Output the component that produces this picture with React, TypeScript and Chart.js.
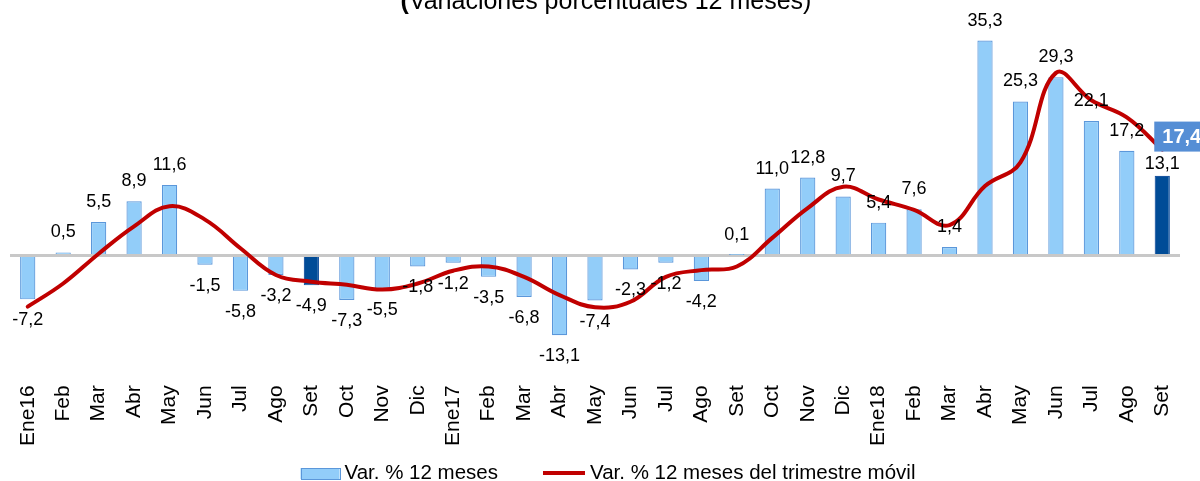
import React, { useEffect, useRef } from "react";
import { Chart, registerables } from "chart.js";

Chart.register(...registerables);

const titleText = "(Variaciones porcentuales 12 meses)";

const categories = [
  "Ene16", "Feb", "Mar", "Abr", "May", "Jun", "Jul", "Ago", "Set", "Oct", "Nov", "Dic",
  "Ene17", "Feb", "Mar", "Abr", "May", "Jun", "Jul", "Ago", "Set", "Oct", "Nov", "Dic",
  "Ene18", "Feb", "Mar", "Abr", "May", "Jun", "Jul", "Ago", "Set",
];

const var12Meses = [
  -7.2, 0.5, 5.5, 8.9, 11.6, -1.5, -5.8, -3.2, -4.9, -7.3, -5.5, -1.8,
  -1.2, -3.5, -6.8, -13.1, -7.4, -2.3, -1.2, -4.2, 0.1, 11.0, 12.8, 9.7,
  5.4, 7.6, 1.4, 35.3, 25.3, 29.3, 22.1, 17.2, 13.1,
];

const varTrimestreMovil = [
  -8.4, -4.6, 0.3, 4.8, 8.1, 5.9, 1.2, -3.2, -4.3, -4.8, -5.6, -4.6,
  -2.5, -1.8, -3.5, -6.5, -8.5, -7.6, -3.5, -2.4, -1.8, 2.9, 7.8, 11.3,
  9.2, 7.5, 5.0, 11.4, 15.3, 30.0, 25.5, 22.7, 17.4,
];

const highlightedIndexes = [8, 32];

const seriesNames = ["Var. % 12 meses", "Var. % 12 meses del trimestre móvil"];

const FONT = "'Liberation Sans', Arial, Helvetica, sans-serif";
const LIGHT_FILL = "#92CDF9";
const LIGHT_BORDER = "#5B97DA";
const DARK_FILL = "#004C97";
const DARK_BORDER = "#1A55A0";
const LINE_COLOR = "#C00000";

const fmt = (v: number) => v.toFixed(1).replace(".", ",");

export default function App() {
  const ref = useRef<HTMLCanvasElement>(null);

  useEffect(() => {
    document.body.style.margin = "0";
    const canvas = ref.current;
    if (!canvas) return;

    const barFill = categories.map((_, i) => (highlightedIndexes.includes(i) ? DARK_FILL : LIGHT_FILL));
    const barBorder = categories.map((_, i) => (highlightedIndexes.includes(i) ? DARK_BORDER : LIGHT_BORDER));

    const titlePlugin = {
      id: "clippedTitle",
      afterDraw(chart: any) {
        const c = chart.ctx;
        c.save();
        c.fillStyle = "#000";
        c.textBaseline = "alphabetic";
        const first = titleText.slice(0, 1);
        const rest = titleText.slice(1);
        c.font = `bold 25px ${FONT}`;
        const w1 = c.measureText(first).width;
        c.font = `25px ${FONT}`;
        const w2 = c.measureText(rest).width;
        const cx = 606;
        const x0 = cx - (w1 + w2) / 2;
        c.font = `bold 25px ${FONT}`;
        c.textAlign = "left";
        c.fillText(first, x0, 9);
        c.font = `25px ${FONT}`;
        c.fillText(rest, x0 + w1, 9);
        c.restore();
      },
    };

    const labelsPlugin = {
      id: "valueLabels",
      afterDatasetsDraw(chart: any) {
        const c = chart.ctx;
        c.save();
        // callout box for the last moving-quarter value
        const lm = chart.getDatasetMeta(1);
        const last = lm.data[lm.data.length - 1];
        const txt = fmt(varTrimestreMovil[varTrimestreMovil.length - 1]);
        c.font = `bold 20px ${FONT}`;
        const w = c.measureText(txt).width;
        const bx = last.x - 8;
        const by = last.y - 28;
        const bw = w + 16;
        const bh = 30;

        // bar value labels
        const meta = chart.getDatasetMeta(0);
        c.font = `18px ${FONT}`;
        c.fillStyle = "#000";
        c.textAlign = "center";
        c.textBaseline = "middle";
        meta.data.forEach((el: any, i: number) => {
          const v = var12Meses[i];
          let y = v >= 0 ? el.y - 20 : el.y + 21;
          const tw = c.measureText(fmt(v)).width;
          const overlapsX = el.x + tw / 2 > bx && el.x - tw / 2 < bx + bw;
          if (v >= 0 && overlapsX && y - 9 < by + bh && y + 9 > by) {
            y = by + bh + 12;
          }
          c.fillText(fmt(v), el.x, y);
        });

        c.font = `bold 20px ${FONT}`;
        c.fillStyle = "#558ED5";
        c.fillRect(bx, by, bw, bh);
        c.fillStyle = "#fff";
        c.textAlign = "left";
        c.fillText(txt, bx + 8, by + bh / 2 + 1);
        c.restore();
      },
    };

    const legendPlugin = {
      id: "customLegend",
      afterDraw(chart: any) {
        const c = chart.ctx;
        c.save();
        c.font = `20.5px ${FONT}`;
        c.textBaseline = "alphabetic";
        c.textAlign = "left";
        const t1 = c.measureText(seriesNames[0]).width;
        const t2 = c.measureText(seriesNames[1]).width;
        const boxW = 39;
        const lineW = 42;
        const gap = 5;
        const itemGap = 45;
        const total = boxW + gap + t1 + itemGap + lineW + gap + t2;
        let x = chart.width / 2 + 8 - total / 2;
        const baseline = 479;
        const midY = 472;
        c.fillStyle = LIGHT_FILL;
        c.fillRect(x, midY - 4, boxW, 11);
        c.strokeStyle = LIGHT_BORDER;
        c.lineWidth = 1;
        c.strokeRect(Math.round(x) + 0.5, midY - 3.5, boxW, 11);
        x += boxW + gap;
        c.fillStyle = "#000";
        c.fillText(seriesNames[0], x, baseline);
        x += t1 + itemGap;
        c.strokeStyle = LINE_COLOR;
        c.lineWidth = 4;
        c.beginPath();
        c.moveTo(x, midY + 1);
        c.lineTo(x + lineW, midY + 1);
        c.stroke();
        x += lineW + gap;
        c.fillStyle = "#000";
        c.fillText(seriesNames[1], x, baseline);
        c.restore();
      },
    };

    const chart = new Chart(canvas, {
      type: "bar",
      data: {
        labels: categories,
        datasets: [
          {
            type: "bar",
            label: seriesNames[0],
            data: var12Meses,
            backgroundColor: barFill,
            borderColor: barBorder,
            borderWidth: 1.2,
            barPercentage: 0.43,
            categoryPercentage: 1,
            order: 2,
          } as any,
          {
            type: "line",
            label: seriesNames[1],
            data: varTrimestreMovil,
            borderColor: LINE_COLOR,
            backgroundColor: LINE_COLOR,
            borderWidth: 4,
            tension: 0.4,
            pointRadius: 0,
            fill: false,
            borderCapStyle: "round",
            order: 1,
          } as any,
        ],
      },
      options: {
        responsive: false,
        animation: false,
        layout: { padding: { top: 12, left: 10, right: 20, bottom: 27 } },
        plugins: {
          legend: { display: false },
          title: { display: false },
          tooltip: { enabled: false },
        },
        scales: {
          x: {
            grid: { display: false, drawTicks: false },
            border: { display: false },
            ticks: {
              autoSkip: false,
              minRotation: 90,
              maxRotation: 90,
              padding: 8,
              color: "#000",
              font: { family: FONT, size: 21 },
            },
          },
          y: {
            min: -20,
            max: 40,
            ticks: { display: false, stepSize: 10 },
            border: { display: false },
            grid: {
              drawTicks: false,
              color: (ctx: any) => (ctx.tick && ctx.tick.value === 0 ? "#C8C8C8" : "rgba(0,0,0,0)"),
              lineWidth: 3,
            },
          },
        },
      },
      plugins: [titlePlugin, labelsPlugin, legendPlugin],
    });

    return () => chart.destroy();
  }, []);

  return (
    <div style={{ width: 1200, height: 481, background: "#fff" }}>
      <canvas ref={ref} width={1200} height={481} style={{ display: "block" }} />
    </div>
  );
}
